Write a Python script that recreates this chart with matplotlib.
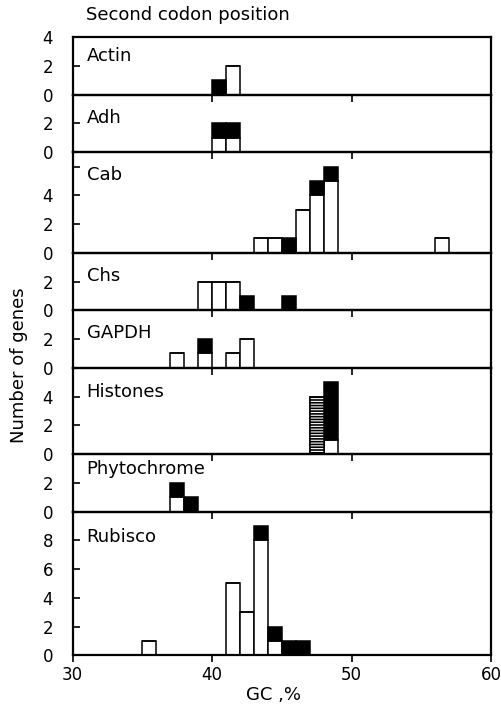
import matplotlib
matplotlib.use("Agg")
import matplotlib.pyplot as plt

# GC% bins (left edge, width 1) and gene counts per panel
genes = ["Actin", "Adh", "Cab", "Chs", "GAPDH", "Histones", "Phytochrome", "Rubisco"]
ylims = [4, 4, 7, 4, 4, 6, 4, 10]

actin_bins = [40, 41]
actin_open = [0, 2]
actin_filled = [1, 0]

adh_bins = [40, 41]
adh_open = [1, 1]
adh_filled = [1, 1]

cab_bins = [43, 44, 45, 46, 47, 48, 56]
cab_open = [1, 1, 0, 3, 4, 5, 1]
cab_filled = [0, 0, 1, 0, 1, 1, 0]

chs_bins = [39, 40, 41, 42, 45]
chs_open = [2, 2, 2, 0, 0]
chs_filled = [0, 0, 0, 1, 1]

gapdh_bins = [37, 39, 41, 42]
gapdh_open = [1, 1, 1, 2]
gapdh_filled = [0, 1, 0, 0]

histone_bins = [48]
histone_open = [1]
histone_filled = [4]
histone_hatched_bins = [47]
histone_hatched = [4]

phyto_bins = [37, 38]
phyto_open = [1, 0]
phyto_filled = [1, 1]

rubisco_bins = [35, 41, 42, 43, 44, 45, 46]
rubisco_open = [1, 5, 3, 8, 1, 0, 0]
rubisco_filled = [0, 0, 0, 1, 1, 1, 1]

panels = [
    (actin_bins, actin_open, actin_filled),
    (adh_bins, adh_open, adh_filled),
    (cab_bins, cab_open, cab_filled),
    (chs_bins, chs_open, chs_filled),
    (gapdh_bins, gapdh_open, gapdh_filled),
    (histone_bins, histone_open, histone_filled),
    (phyto_bins, phyto_open, phyto_filled),
    (rubisco_bins, rubisco_open, rubisco_filled),
]

plt.rcParams["font.family"] = "DejaVu Sans"
plt.rcParams["hatch.linewidth"] = 0.8

fig = plt.figure(figsize=(5.01, 7.15), dpi=100)
gs = fig.add_gridspec(len(genes), 1, height_ratios=ylims, hspace=0,
                      left=0.145, right=0.98, top=0.948, bottom=0.0835)

bar_kw = dict(width=1, align="edge", edgecolor="black", linewidth=1.1)
label_drop = [7, 10, 10, 10, 10, 11, 4, 12]

for i, (name, ylim, (bins, open_n, filled_n)) in enumerate(zip(genes, ylims, panels)):
    ax = fig.add_subplot(gs[i])
    ax.patch.set_visible(False)

    ax.bar(bins, open_n, color="white", **bar_kw)
    ax.bar(bins, filled_n, bottom=open_n, color="black", **bar_kw)
    if name == "Histones":
        # dark striped bar: black fill with thin white lines
        ax.bar(histone_hatched_bins, histone_hatched, color="black", **bar_kw)
        ax.bar(histone_hatched_bins, histone_hatched, width=1, align="edge",
               fill=False, hatch="------", edgecolor="white", linewidth=0)
        ax.bar(histone_hatched_bins, histone_hatched, width=1, align="edge",
               fill=False, edgecolor="black", linewidth=1.1)

    ax.set_xlim(30, 60)
    ax.set_ylim(0, ylim)
    ticks = list(range(0, ylim + 1, 2))
    ax.set_yticks(ticks)
    ax.set_yticklabels([str(t) if (t <= ylim - 2 or i == 0) else "" for t in ticks])
    ax.tick_params(axis="y", direction="in", length=5, width=1.2,
                   labelsize=12, pad=14)
    ax.set_xticks([30, 40, 50, 60])
    ax.tick_params(axis="x", direction="out", length=5, width=1.2,
                   labelsize=12, pad=3, labelbottom=(i == len(genes) - 1))
    for sp in ax.spines.values():
        sp.set_linewidth(1.6)

    ax.annotate(name, xy=(0, 1), xycoords="axes fraction",
                xytext=(10, -label_drop[i]), textcoords="offset points",
                ha="left", va="top", fontsize=13)

fig.text(0.172, 0.979, "Second codon position", ha="left", va="center", fontsize=13)
fig.text(0.038, 0.489, "Number of genes", rotation=90, ha="center", va="center",
         fontsize=13)
fig.text(0.545, 0.028, "GC ,%", ha="center", va="center", fontsize=13)

fig.savefig("out.png", dpi=100)
